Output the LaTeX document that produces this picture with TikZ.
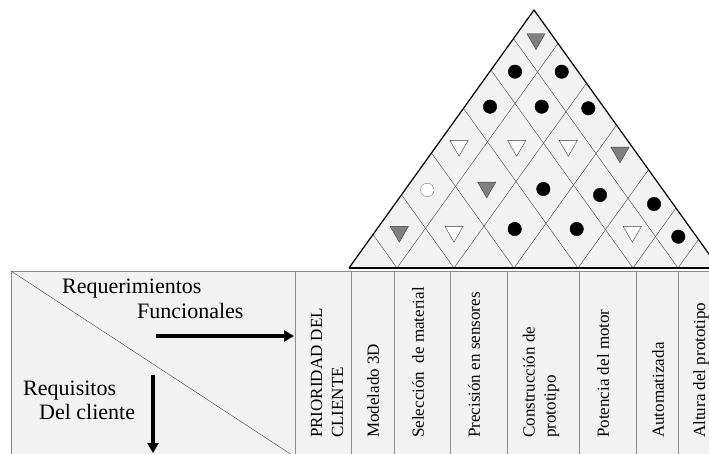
\documentclass[tikz,border=0pt]{standalone}
\usepackage{fontspec}
\setmainfont{Liberation Serif}
\usetikzlibrary{shapes.geometric,arrows.meta}
\definecolor{celda}{HTML}{F2F2F2}
\definecolor{linea}{HTML}{8C8C8C}
\definecolor{rejilla}{HTML}{404040}

\begin{document}
\begin{tikzpicture}[x=1pt,y=-1pt]
\tikzstyle{dot}=[circle,fill=black,draw=black,minimum size=13.5pt,inner sep=0pt];
\tikzstyle{hueco}=[circle,fill=white,draw=gray,minimum size=13.5pt,inner sep=0pt];
\tikzstyle{tri}=[regular polygon,regular polygon sides=3,shape border rotate=180,draw=rejilla,minimum size=21pt,inner sep=0pt];
\tikzstyle{trig}=[tri,fill=gray];
\tikzstyle{triw}=[tri,fill=white];
\tikzstyle{col}=[rotate=90,anchor=west,align=left,inner sep=0pt,font=\fontsize{17}{21}\selectfont];
\tikzstyle{lbl}=[anchor=base west,inner sep=0pt,font=\fontsize{22}{26}\selectfont];
\tikzstyle{dir}=[line width=4.5pt,-{Triangle[length=10pt,width=11pt]}];

\useasboundingbox (0,0) rectangle (709,454);
\clip (0,0) rectangle (709,454);

% tabla
\draw[linea,fill=celda] (11,271) rectangle (780,480);
\foreach \x in {295,351,394,450,507,579,636,678,719}
  \draw[linea] (\x,271) -- (\x,480);
\draw[rejilla] (11,271) -- (295,457);

% techo
\fill[celda] (349,268) -- (534,10) -- (719,268) -- cycle;
\foreach \b in {397,454,514,578,633,678} {
  \draw[rejilla] (\b,268) -- ({(\b+719)/2},{268-(719-\b)*0.6974});
  \draw[rejilla] (\b,268) -- ({(349+\b)/2},{268-(\b-349)*0.6974});
}
\draw[line width=1.2pt] (349,268) -- (534,10) -- (719,268);
\draw[line width=2pt] (349,268) -- (719,268);

% correlaciones
\node [trig] (m17) at (536,39) {};
\node [dot] (m16) at (515,71.7) {};
\node [dot] (m27) at (561.7,71.7) {};
\node [dot] (m15) at (490,106.7) {};
\node [dot] (m26) at (541.7,106.7) {};
\node [dot] (m37) at (588.3,108.3) {};
\node [triw] (m14) at (459,145.7) {};
\node [triw] (m25) at (516.7,145.7) {};
\node [triw] (m36) at (568.3,145.7) {};
\node [trig] (m47) at (620,152.4) {};
\node [hueco] (m13) at (427.3,190) {};
\node [trig] (m24) at (486.7,187.4) {};
\node [dot] (m35) at (543.3,189) {};
\node [dot] (m46) at (600,195) {};
\node [dot] (m57) at (654,204) {};
\node [trig] (m12) at (399.3,231.7) {};
\node [triw] (m23) at (454,231.7) {};
\node [dot] (m34) at (514.7,229) {};
\node [dot] (m45) at (576.7,229) {};
\node [triw] (m56) at (632.3,231.7) {};
\node [dot] (m67) at (678.3,236.7) {};

% esquina
\node [lbl] (rf1) at (62,293) {Requerimientos};
\node [lbl] (rf2) at (137,318) {Funcionales};
\node [lbl] (rc1) at (23,395) {Requisitos};
\node [lbl] (rc2) at (39,419) {Del cliente};
\coordinate (fa) at (156,336);
\coordinate (fb) at (294,336);
\coordinate (ca) at (153,375);
\coordinate (cb) at (153,453);
\draw [dir] (fa) -- (fb);
\draw [dir] (ca) -- (cb);

% columnas
\node [col] (k0) at (327,438) {PRIORIDAD DEL\\CLIENTE};
\node [col] (k1) at (373,438) {Modelado 3D};
\node [col] (k2) at (418,438) {Selección~ de material};
\node [col] (k3) at (474,438) {Precisión en sensores};
\node [col] (k4) at (541,438) {Construcción de\\prototipo};
\node [col] (k5) at (603,438) {Potencia del motor};
\node [col] (k6) at (658,438) {Automatizada};
\node [col] (k7) at (701,438) {Altura del prototipo};
\end{tikzpicture}
\end{document}
